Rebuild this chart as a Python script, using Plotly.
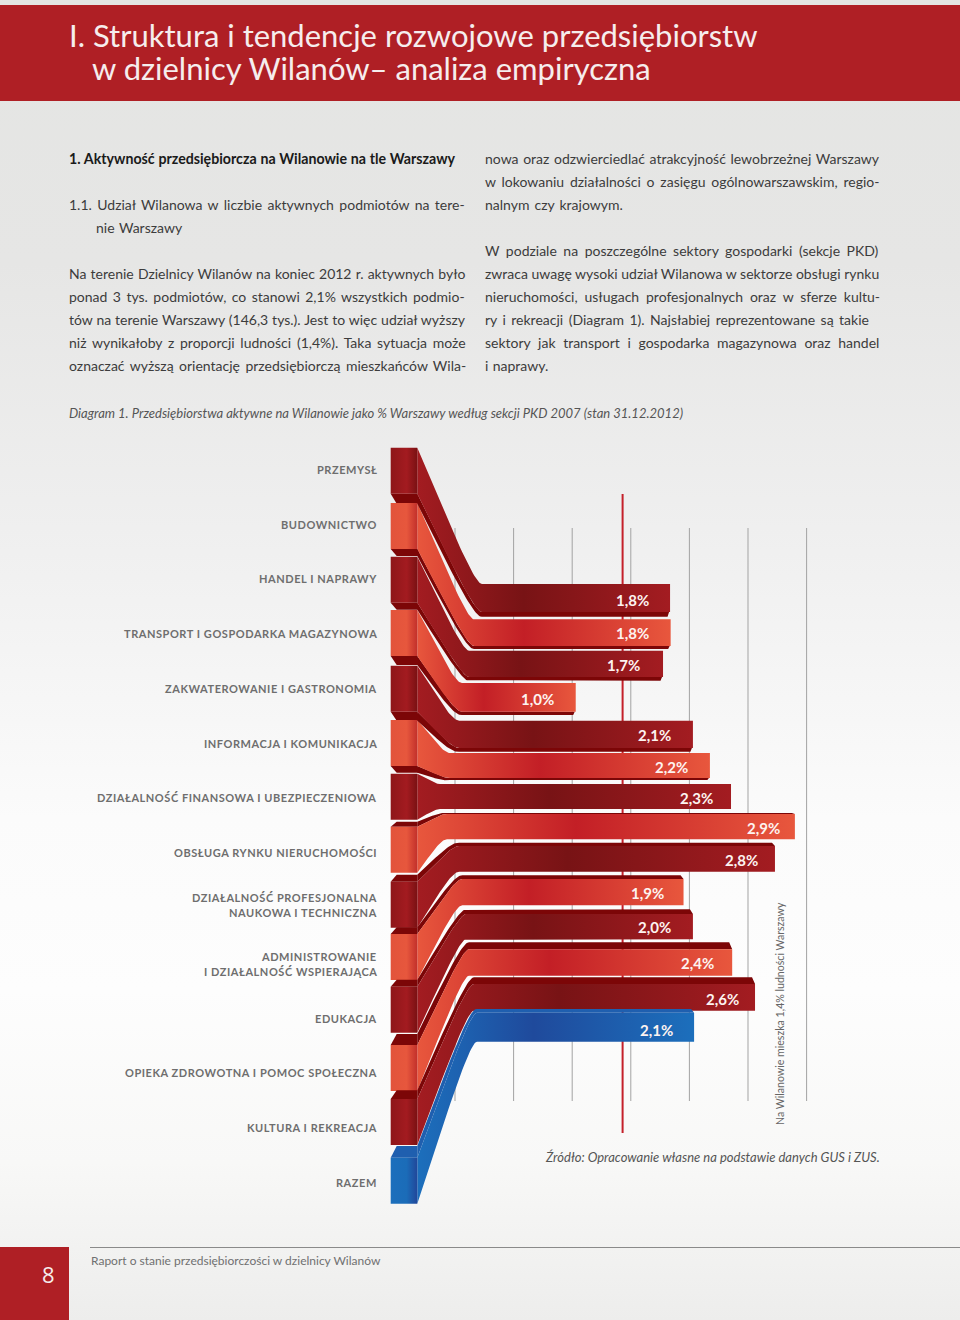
import plotly.graph_objects as go

# ---------- data ----------
categories = [
    "PRZEMYSŁ", "BUDOWNICTWO", "HANDEL I NAPRAWY", "TRANSPORT I GOSPODARKA MAGAZYNOWA",
    "ZAKWATEROWANIE I GASTRONOMIA", "INFORMACJA I KOMUNIKACJA",
    "DZIAŁALNOŚĆ FINANSOWA I UBEZPIECZENIOWA", "OBSŁUGA RYNKU NIERUCHOMOŚCI",
    "DZIAŁALNOŚĆ PROFESJONALNA<br>NAUKOWA I TECHNICZNA",
    "ADMINISTROWANIE<br>I DZIAŁALNOŚĆ WSPIERAJĄCA", "EDUKACJA",
    "OPIEKA ZDROWOTNA I POMOC SPOŁECZNA", "KULTURA I REKREACJA", "RAZEM",
]
value_labels = ["1,8%", "1,8%", "1,7%", "1,0%", "2,1%", "2,2%", "2,3%", "2,9%", "2,8%", "1,9%", "2,0%", "2,4%", "2,6%", "2,1%"]
drawn_lengths = [1.835, 1.84, 1.775, 1.03, 2.03, 2.175, 2.355, 2.9, 2.73, 1.95, 2.03, 2.365, 2.56, 2.04]
grid_ticks = [0, 0.5, 1.0, 1.5, 2.0, 2.5, 3.0]
population_share = 1.43

title_lines = ["I. Struktura i tendencje rozwojowe przedsiębiorstw", "w dzielnicy Wilanów– analiza empiryczna"]
left_column = [
    ("1.1. Udział Wilanowa w liczbie aktywnych podmiotów na tere-", 204.5, 68, 1.85),
    ("nie Warszawy", 227.5, 95, 1),
    ("Na terenie Dzielnicy Wilanów na koniec 2012 r. aktywnych było", 273.5, 68, 0.57),
    ("ponad 3 tys. podmiotów, co stanowi 2,1% wszystkich podmio-", 296.5, 68, 1.87),
    ("tów na terenie Warszawy (146,3 tys.). Jest to więc udział wyższy", 319.5, 68, 0.33),
    ("niż wynikałoby z proporcji ludności (1,4%). Taka sytuacja może", 342.5, 68, 2.16),
    ("oznaczać wyższą orientację przedsiębiorczą mieszkańców Wila-", 365.5, 68, 1.86),
]
right_column = [
    ("nowa oraz odzwierciedlać atrakcyjność lewobrzeżnej Warszawy", 158.5, 484, 1.06),
    ("w lokowaniu działalności o zasięgu ogólnowarszawskim, regio-", 181.5, 484, 2.2),
    ("nalnym czy krajowym.", 204.5, 484, 1.5),
    ("W podziale na poszczególne sektory gospodarki (sekcje PKD)", 250.5, 484, 2.95),
    ("zwraca uwagę wysoki udział Wilanowa w sektorze obsługi rynku", 273.5, 484, 0.04),
    ("nieruchomości, usługach profesjonalnych oraz w sferze kultu-", 296.5, 484, 3.23),
    ("ry i rekreacji (Diagram 1). Najsłabiej reprezentowane są takie", 319.5, 484, 1.9),
    ("sektory jak transport i gospodarka magazynowa oraz handel", 342.5, 484, 4.04),
    ("i naprawy.", 365.5, 484, 0.7),
]

# ---------- layout geometry (page pixels) ----------
W, H = 960, 1320
X0, PX_PER_UNIT = 455.0, 117.2
def u(px):
    return (px - X0) / PX_PER_UNIT

BLOCK_L, BLOCK_R, BLOCK_H = 390.7, 417.3, 46
block_top = [447.7, 503, 556.7, 610, 665.7, 720, 773.7, 826.7, 881.7, 934, 986.7, 1045, 1099, 1157.7]
face_top = [584, 619.3, 650.7, 683, 720.7, 753, 784, 814, 846, 879, 914, 949.3, 984, 1012.7]
face_bot = [612, 646, 677, 711.7, 748, 778, 809, 839.3, 871.7, 905.3, 939.3, 975.7, 1010.7, 1041.7]
curve_end = [478, 470, 465, 460, 458, 450, 440, 447, 458, 460, 462, 465, 470, 473]
straightness = [1, 1, 1, 0.5, 0.3, 0, 0, 0, 0.3, 0.6, 1, 1, 1, 1]
bar_lip = [4.7, 3, 3.7, 3.3, 3.7, 2, 0, 1, 3.3, 3.7, 4.7, 7, 6.7, 3.7]
block_lip = [10, 7, 7, 9, 9, 6.7, 0, 5, 7, 6.7, 7, 11, 8.7, 11.6]
label_shift = [-19.5, -19.5, -21.5, -19.5, -19.5, -19.5, -16.5, -12.5, -14.5, -17.5, -19.5, -16.5, -14.5, -19.5]
label_y = [469.5, 524, 578.5, 633.5, 688, 743, 797.5, 852.5, 905.2, 964.2, 1018, 1072.5, 1127, 1182]
value_y = [599.5, 632.5, 665, 698.5, 734.5, 766.5, 797.5, 827.5, 859.5, 892.5, 926.5, 962.5, 998.5, 1029.5]

CORAL = dict(end="#e8573d", mid="#c31f26", blk=("#e2533b", "#e7573d", "#c2302b"), lip="#7c0607")
DARK = dict(end="#a31c21", mid="#781315", blk=("#8e1619", "#a31b20", "#7a1113"), lip="#7c0607")
BLUE = dict(end="#1c6fbc", mid="#1f4a9c", blk=("#1c6fbc", "#1b6cb8", "#21479a"), lip="#1f5faf")
def palette(i):
    if i == len(categories) - 1:
        return BLUE
    return CORAL if i % 2 else DARK

def edge(y0, y1, xe0, s, n=30):
    xe = xe0 + 4 * s
    a1, b1, a2 = 0.35 + 0.2 * s, 0.4 + 0.22 * s, 0.25 - 0.13 * s
    p0 = (BLOCK_R, y0)
    p1 = (BLOCK_R + a1 * (xe - BLOCK_R), y0 + b1 * (y1 - y0))
    p2 = (xe - a2 * (xe - BLOCK_R), y1)
    p3 = (xe, y1)
    pts = []
    for k in range(n + 1):
        t = k / n
        a, b, c, d = (1 - t) ** 3, 3 * t * (1 - t) ** 2, 3 * t * t * (1 - t), t ** 3
        pts.append((a * p0[0] + b * p1[0] + c * p2[0] + d * p3[0], a * p0[1] + b * p1[1] + c * p2[1] + d * p3[1]))
    return pts

fig = go.Figure()

def poly(pts, **kw):
    fig.add_trace(go.Scatter(x=[u(p[0]) for p in pts], y=[p[1] for p in pts], mode="lines",
                             line=dict(width=0), fill="toself", hoverinfo="skip", showlegend=False, **kw))

# page background
poly([(0, 0), (W, 0), (W, H), (0, H)],
     fillgradient=dict(type="vertical", start=0, stop=H,
                       colorscale=[[0, "#e4e5e3"], [0.2, "#e6e6e5"], [0.4, "#efefef"], [0.62, "#fbfbfb"],
                                   [0.75, "#fdfdfd"], [0.88, "#f8f8f7"], [1, "#ededec"]]))

# grid and the 1,4% reference line
for t in grid_ticks:
    fig.add_trace(go.Scatter(x=[t, t], y=[528, 1101], mode="lines", line=dict(color="#a3a3a3", width=1),
                             hoverinfo="skip", showlegend=False))
fig.add_trace(go.Scatter(x=[population_share] * 2, y=[494, 1133], mode="lines", line=dict(color="#c4202a", width=2),
                         hoverinfo="skip", showlegend=False))

def ribbon(i):
    c = palette(i)
    xend = X0 + drawn_lengths[i] * PX_PER_UNIT
    by0, by1 = block_top[i], block_top[i] + BLOCK_H
    top = edge(by0, face_top[i], curve_end[i], straightness[i])
    bot = edge(by1, face_bot[i], curve_end[i], straightness[i])
    n = len(bot)
    if i <= 6 and bar_lip[i]:
        e = [(x, y + block_lip[i] + (bar_lip[i] - block_lip[i]) * k / (n - 1)) for k, (x, y) in enumerate(bot)]
        poly(bot + [(xend - 1, face_bot[i]), (xend - 2.5, face_bot[i] + bar_lip[i])] + e[::-1], fillcolor=c["lip"])
    if i >= 7:
        e = [(x, y - block_lip[i] + (block_lip[i] - bar_lip[i]) * k / (n - 1)) for k, (x, y) in enumerate(top)]
        poly(top + [(xend, face_top[i]), (xend - 3, face_top[i] - bar_lip[i])] + e[::-1], fillcolor=c["lip"])
    mid = 0.42
    poly(top + [(xend, face_top[i]), (xend, face_bot[i])] + bot[::-1],
         fillgradient=dict(type="horizontal", start=u(BLOCK_R), stop=u(xend),
                           colorscale=[[0, c["end"]], [mid, c["mid"]], [1, c["end"]]]))

for i in [6, 5, 4, 3, 2, 1, 0, 7, 8, 9, 10, 11, 12, 13]:
    ribbon(i)

for i in range(len(categories)):
    c = palette(i)
    t0, t1 = block_top[i], block_top[i] + BLOCK_H
    if i <= 6 and block_lip[i]:
        poly([(BLOCK_L, t1), (BLOCK_R, t1), (BLOCK_R + 3, t1 + block_lip[i]), (BLOCK_L + 6, t1 + block_lip[i])], fillcolor=c["lip"])
    if i >= 7:
        poly([(BLOCK_L, t0), (BLOCK_R, t0), (BLOCK_R, t0 - block_lip[i]), (BLOCK_L + 6, t0 - block_lip[i])], fillcolor=c["lip"])
    poly([(BLOCK_L, t0), (BLOCK_R, t0), (BLOCK_R, t1), (BLOCK_L, t1)],
         fillgradient=dict(type="horizontal", start=u(BLOCK_L), stop=u(BLOCK_R),
                           colorscale=[[0, c["blk"][0]], [0.6, c["blk"][1]], [1, c["blk"][2]]]))

BODY = "Lato"
def ytop(y):
    return 1 - y / H
def xp(x):
    return x / W

def spaced(t, prop, val):
    if not val:
        return t
    return f'<span style="{prop}:{val}px">{t}</span>'

ann = []
def text(t, x, y, size, color, anchor="left", **kw):
    font = dict(family=kw.pop("family", BODY), size=size, color=color)
    for key in ("weight", "style"):
        if key in kw:
            font[key] = kw.pop(key)
    ann.append(dict(text=t, x=xp(x), y=ytop(y), xref="paper", yref="paper", xanchor=anchor, yanchor="middle",
                    showarrow=False, font=font, align=anchor, borderpad=0, **kw))

text(title_lines[0], 68, 35.5, 31, "#f6eded")
text(title_lines[1], 91, 68.5, 31, "#f6eded")
text(spaced("1. Aktywność przedsiębiorcza na Wilanowie na tle Warszawy", "word-spacing", 0.3), 68, 158.5, 14.2, "#1a1a1a", weight="bold")
for t, y, x, ws in left_column + right_column:
    text(spaced(t, "word-spacing", ws), x, y, 14.0, "#3c3c3c")
text("Diagram 1. Przedsiębiorstwa aktywne na Wilanowie jako % Warszawy według sekcji PKD 2007 (stan 31.12.2012)",
     68, 413, 13.03, "#555555", style="italic")
text("Źródło: Opracowanie własne na podstawie danych GUS i ZUS.", 544, 1157, 13.0, "#555555", style="italic")
text("Na Wilanowie mieszka 1,4% ludności Warszawy", 780, 1014, 10.6, "#666666", anchor="center", textangle=-90)
text("Raport o stanie przedsiębiorczości w dzielnicy Wilanów", 90, 1260, 12.0, "#707070")
text("8", 48, 1274, 22, "#f6eded", anchor="center", family="Open Sans")

for name, y in zip(categories, label_y):
    parts = name.split("<br>")
    for k, part in enumerate(parts):
        text(spaced(part, "letter-spacing", 0.55), 377.5, y + (k - (len(parts) - 1) / 2) * 15.5, 11, "#6e6e6e", anchor="right", weight="bold")
for i, lab in enumerate(value_labels):
    ann.append(dict(text=lab, x=drawn_lengths[i], y=value_y[i], xref="x", yref="y", xanchor="right", yanchor="middle",
                    xshift=label_shift[i], showarrow=False, font=dict(family=BODY, size=15, color="#fdf3f0", weight="bold")))

shapes = [
    dict(type="rect", xref="paper", yref="paper", x0=0, x1=1, y0=ytop(5), y1=ytop(101), fillcolor="#af1f25", line_width=0, layer="above"),
    dict(type="rect", xref="paper", yref="paper", x0=0, x1=xp(69), y0=ytop(1247), y1=0, fillcolor="#af1f25", line_width=0, layer="above"),
    dict(type="line", xref="paper", yref="paper", x0=xp(90), x1=1, y0=ytop(1247.5), y1=ytop(1247.5), line=dict(color="#8a8a8a", width=1), layer="above"),
]

fig.update_layout(
    width=W, height=H, margin=dict(l=0, r=0, t=0, b=0), showlegend=False,
    paper_bgcolor="#ffffff", plot_bgcolor="rgba(0,0,0,0)",
    xaxis=dict(range=[u(0), u(W)], visible=False, fixedrange=True),
    yaxis=dict(range=[H, 0], visible=False, fixedrange=True),
    annotations=ann, shapes=shapes, hovermode=False,
)
fig.write_html("out.html", config=dict(displayModeBar=False),
               post_script="document.body.style.margin='0';")
